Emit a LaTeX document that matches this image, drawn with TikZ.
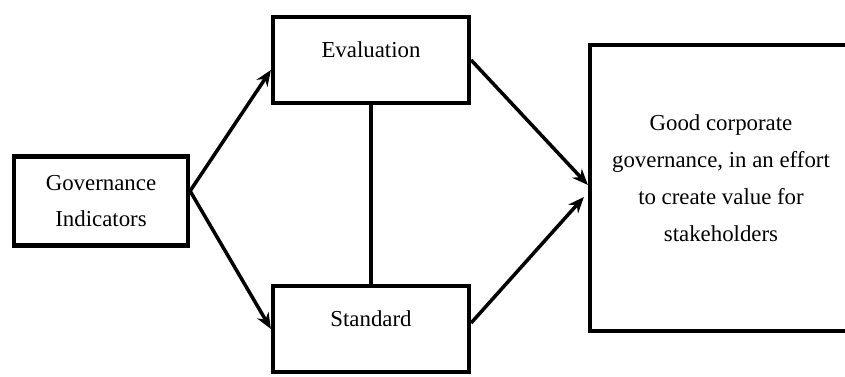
\documentclass[tikz,border=0pt]{standalone}
\usepackage{fontspec}
\setmainfont{Liberation Serif}
\usetikzlibrary{arrows.meta, positioning}

\begin{document}
\begin{tikzpicture}[x=0.02cm, y=-0.02cm]
    % --- Styles ---
    \tikzstyle{block}=[
        draw=black,
        line width=2.4pt,
        rectangle,
        align=center,
        font=\fontsize{13}{21}\selectfont
    ]
    \tikzstyle{raised}=[text height=0.35cm, text depth=0.45cm]
    \tikzstyle{flow}=[
        ->,
        >={Stealth[length=3.2mm, width=2.6mm]},
        line width=2pt
    ]

    % --- Frame ---
    \useasboundingbox (0,0) rectangle (845,376);

    % --- 1. Boxes ---
    \node[block, minimum width=3.48cm, minimum height=1.78cm] (gov) at (101,201) {Governance\\Indicators};
    \node[block, raised, minimum width=3.92cm, minimum height=1.72cm] (eval) at (371,60) {Evaluation};
    \node[block, raised, minimum width=3.92cm, minimum height=1.72cm] (std) at (371,329) {Standard};
    \node[block, minimum width=5.24cm, minimum height=5.72cm] (goal) at (721,188) {\raisebox{0.08cm}[0pt][0pt]{\begin{tabular}{@{}c@{}}Good corporate\\governance, in an effort\\to create value for\\stakeholders\end{tabular}}};

    % --- 2. Connectors ---
    \draw[flow] ([yshift=0.2cm]gov.east) -- ([yshift=-0.2cm]eval.west);
    \draw[flow] ([yshift=0.2cm]gov.east) -- (std.west);
    \draw[line width=2.4pt] (eval) -- (std);
    \draw[flow] (eval.east) -- ([yshift=0.06cm]goal.west);
    \draw[flow] ([yshift=0.12cm]std.east) -- ([yshift=-0.18cm, xshift=-0.08cm]goal.west);

\end{tikzpicture}
\end{document}
